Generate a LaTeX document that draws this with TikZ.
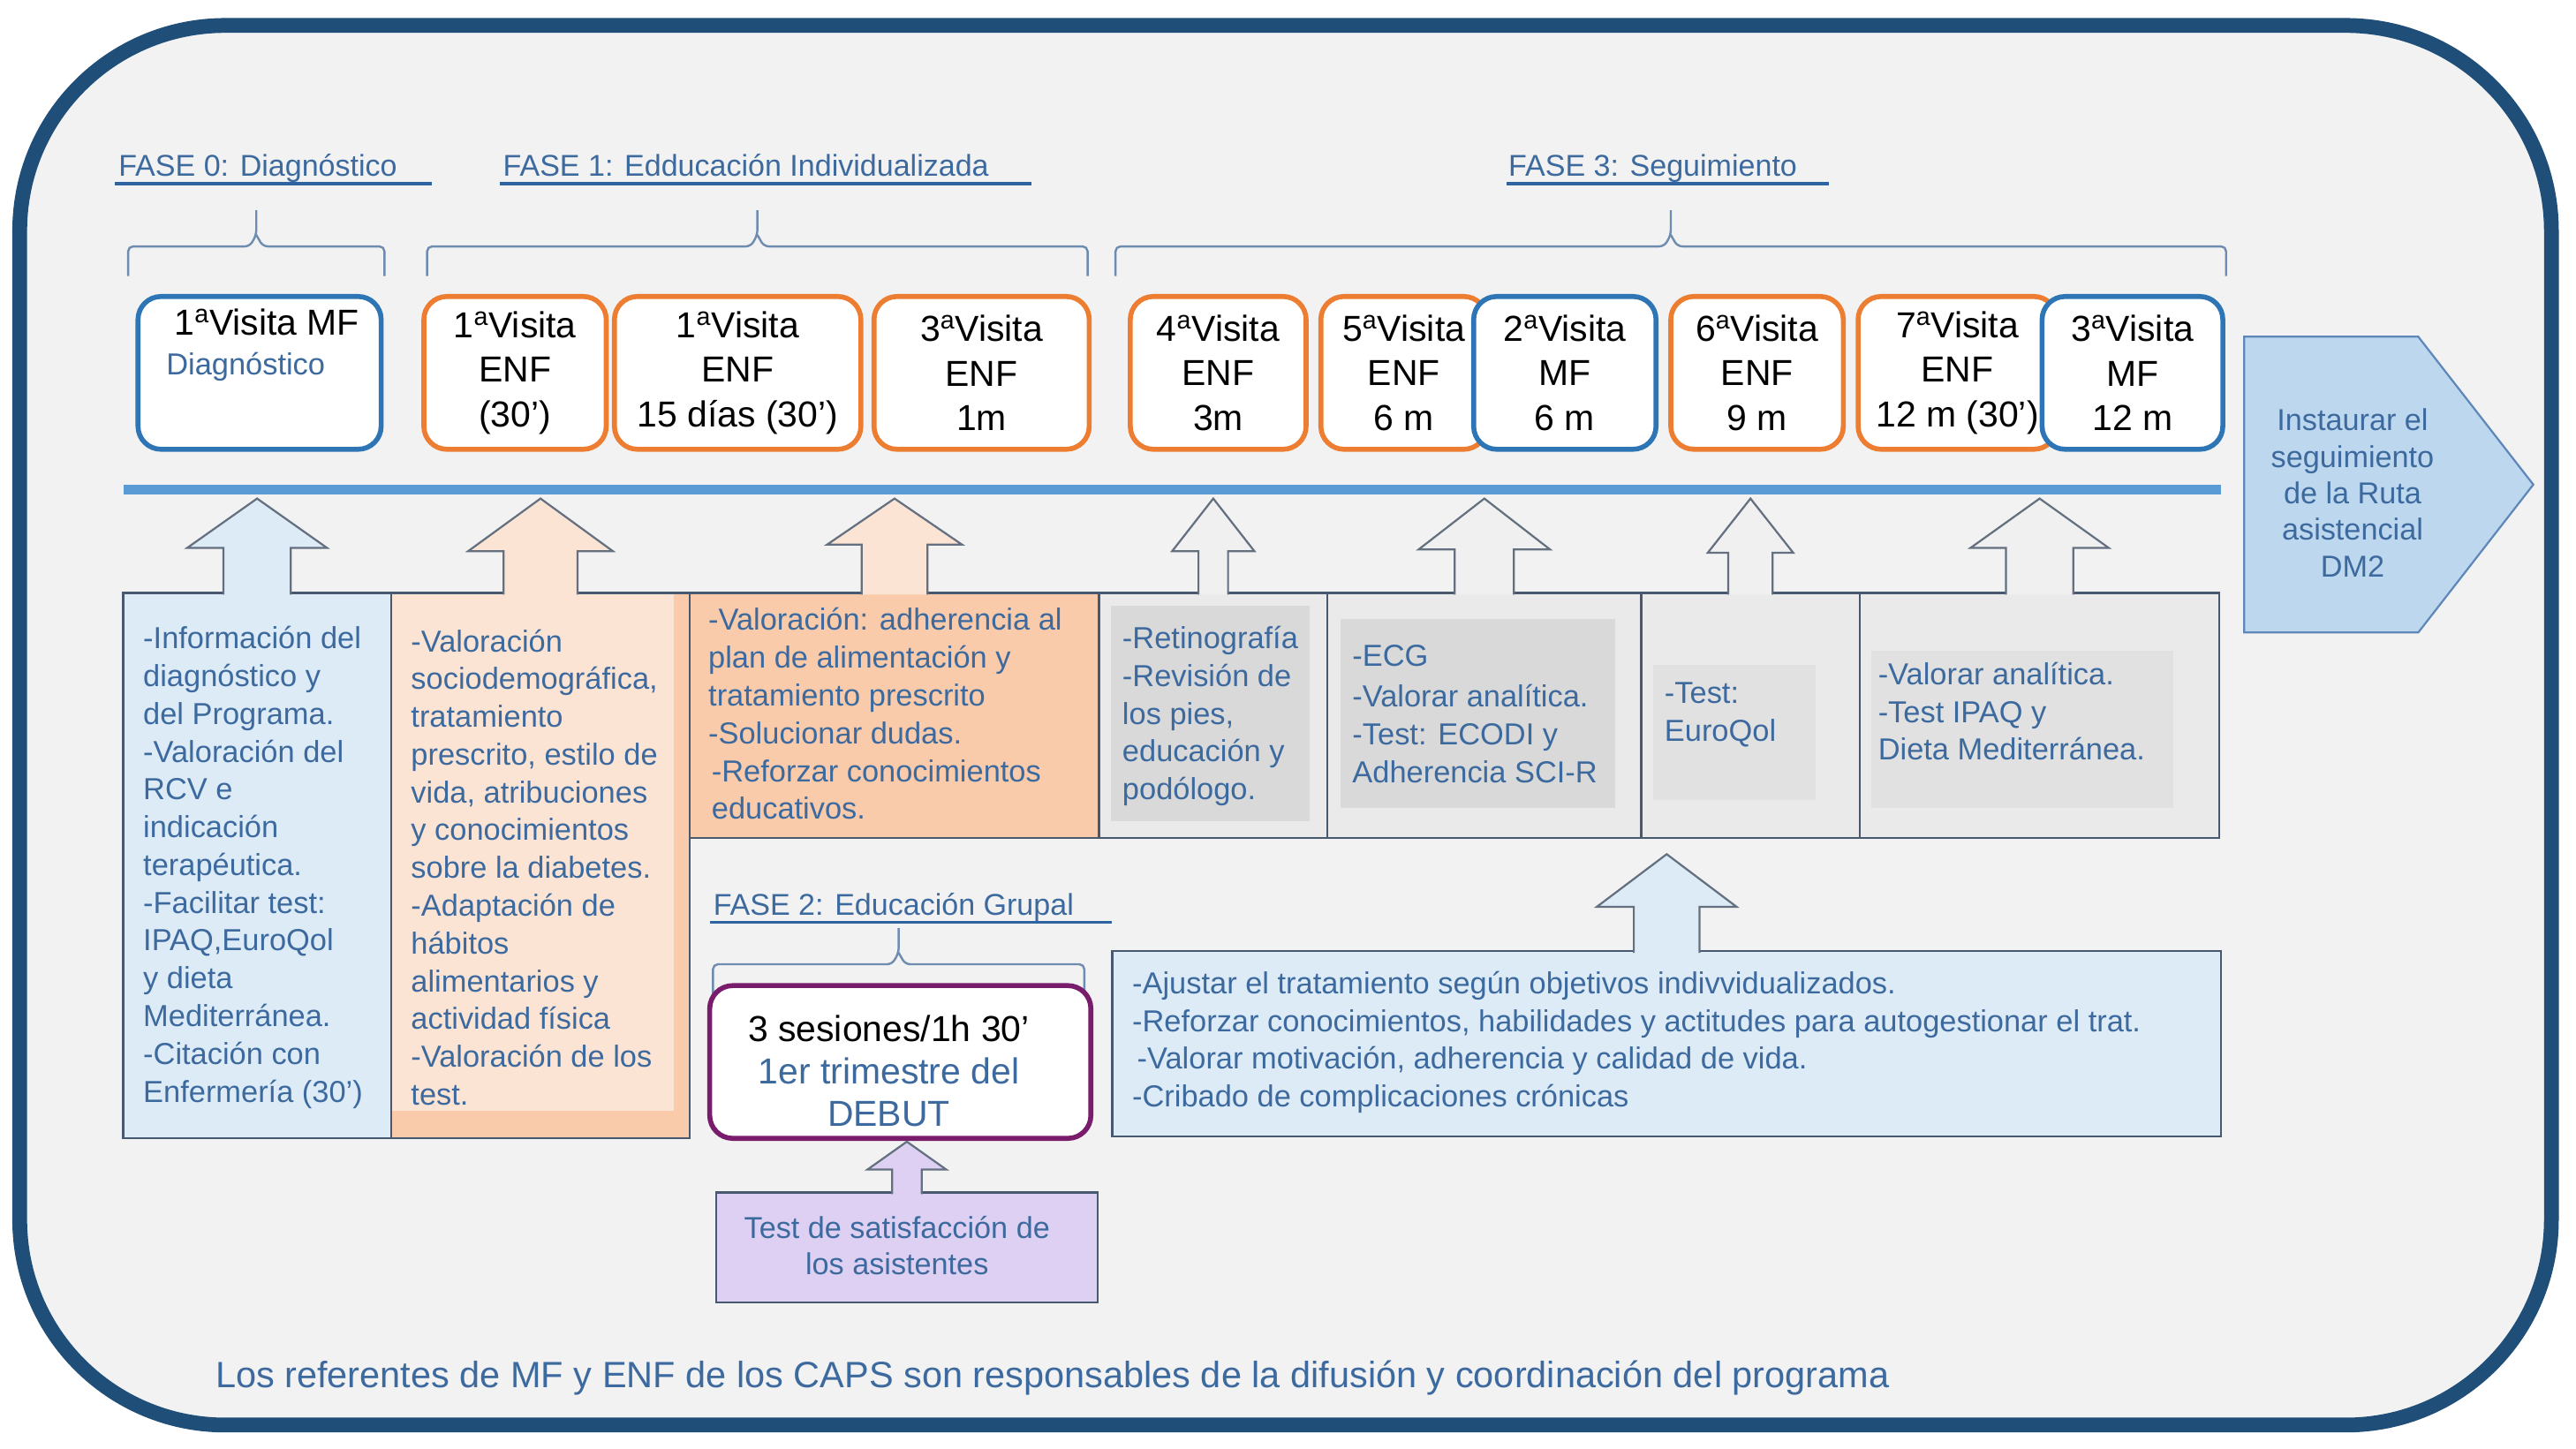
\documentclass[tikz,border=0pt]{standalone}
\usepackage{fontspec}
\setmainfont{Liberation Sans}
\usetikzlibrary{positioning,calc}

\definecolor{frameblue}{RGB}{31,78,121}
\definecolor{bggrey}{RGB}{242,242,242}
\definecolor{txtblue}{RGB}{61,106,158}
\definecolor{ruleblue}{RGB}{46,100,160}
\definecolor{bracecol}{RGB}{110,140,175}
\definecolor{enforange}{RGB}{237,125,49}
\definecolor{mfblue}{RGB}{46,117,182}
\definecolor{barblue}{RGB}{91,155,213}
\definecolor{chevfill}{RGB}{189,215,238}
\definecolor{chevline}{RGB}{95,135,185}
\definecolor{boxline}{RGB}{72,88,110}
\definecolor{arrowline}{RGB}{100,112,128}
\definecolor{bluefill}{RGB}{221,235,247}
\definecolor{peachfill}{RGB}{252,228,212}
\definecolor{peachdark}{RGB}{249,203,170}
\definecolor{greyfill}{RGB}{234,234,234}
\definecolor{greydark}{RGB}{217,217,217}
\definecolor{greymid}{RGB}{225,225,225}
\definecolor{arrowgrey}{RGB}{240,240,240}
\definecolor{lilacfill}{RGB}{222,208,242}
\definecolor{sessionpurple}{RGB}{122,28,108}

% brace over a group of visits: left, right, tick x, level
\newcommand{\phasebrace}[4]{%
  \draw[brace line] (#1,#4+18) -- (#1,#4) -- (#3-4,#4) -- (#3,#4-7) -- (#3,#4-22)
    (#3,#4-7) -- (#3+4,#4) -- (#2,#4) -- (#2,#4+18);}

% block arrow up from a box: fill, box, target, gap, head half width, shaft half width, head length
\newcommand{\blockarrow}[7]{%
  \path[block arrow,fill=#1] let \p1=(#2.north), \p2=(#2.north |- #3) in
    (\x1-#6pt,\y1-1pt) -- (\x1-#6pt,\y2-#4pt-#7pt) -- (\x1-#5pt,\y2-#4pt-#7pt) -- (\x1,\y2-#4pt)
    -- (\x1+#5pt,\y2-#4pt-#7pt) -- (\x1+#6pt,\y2-#4pt-#7pt) -- (\x1+#6pt,\y1-1pt);}

\begin{document}
\begin{tikzpicture}[x=1pt,y=-1pt,
    visit/.style={rounded corners=14pt,line width=3pt,fill=white,minimum height=93pt,inner sep=0pt,outer sep=0pt,align=center,font=\fontsize{22}{27}\selectfont},
    enf/.style={visit,draw=enforange},
    mf/.style={visit,draw=mfblue},
    info box/.style={draw=boxline,line width=1.2pt,anchor=north west,inner sep=0pt,outer sep=0pt},
    inner fill/.style={anchor=north west,inner sep=0pt,outer sep=0pt},
    info text/.style={anchor=west,align=left,inner sep=0pt,text=txtblue,font=\fontsize{18.5}{23}\selectfont},
    phase/.style={anchor=base west,inner sep=0pt,text=txtblue,font=\fontsize{18.3}{22}\selectfont},
    phase rule/.style={draw=ruleblue,line width=2pt},
    brace line/.style={draw=bracecol,line width=1.3pt,rounded corners=3pt},
    block arrow/.style={draw=arrowline,line width=1.2pt}]

    \fill[white] (0,0) rectangle (1568,882.1);
    \useasboundingbox (0,0) rectangle (1568,882.1);
    \draw[frameblue,line width=9pt,fill=bggrey,rounded corners=125pt] (12,15.5) rectangle (1553,867.5);

    % phases
    \node[phase] (f0) at (72,107.5) {FASE 0: Diagnóstico};
    \node[phase] (f1) at (306,107.5) {FASE 1: Edducación Individualizada};
    \node[phase] (f3) at (918,107.5) {FASE 3: Seguimiento};
    \node[phase] (f2) at (434,557) {FASE 2: Educación Grupal};
    \draw[phase rule] (f0.base west) ++(-2,4.5) -- ++(193,0);
    \draw[phase rule] (f1.base west) ++(-2,4.5) -- ++(324,0);
    \draw[phase rule] (f3.base west) ++(-1,4.5) -- ++(196,0);
    \draw[phase rule] (f2.base west) ++(-2,4.5) -- ++(245,0);

    \phasebrace{78}{234}{156}{150}
    \phasebrace{260}{662}{461}{150}
    \phasebrace{679}{1355}{1017}{150}
    \phasebrace{434}{660}{547}{587}

    % visits
    \node[mf,minimum width=148pt] (v1) at (158,227) {};
    \node[anchor=west,align=left,inner sep=0pt,font=\fontsize{22}{24}\selectfont] (v1txt) at (101,210)
        {\hspace*{5pt}1\textsuperscript{a}Visita MF\\{\color{txtblue}\fontsize{18.5}{24}\selectfont Diagnóstico}};
    \node[enf,minimum width=111pt,right=26pt of v1] (e1) {1\textsuperscript{a}Visita\\ENF\\(30’)};
    \node[enf,minimum width=150pt,right=5pt of e1] (e2) {1\textsuperscript{a}Visita\\ENF\\15 días (30’)};
    \node[enf,minimum width=131pt,right=8pt of e2] (e3) {3\textsuperscript{a}Visita\\ENF\\1m};
    \node[enf,minimum width=107pt,right=25pt of e3] (e4) {4\textsuperscript{a}Visita\\ENF\\3m};
    \node[enf,minimum width=101pt,right=9pt of e4] (e5) {5\textsuperscript{a}Visita\\ENF\\6 m};
    \node[mf,minimum width=111pt,right=-8pt of e5] (m2) {2\textsuperscript{a}Visita\\MF\\6 m};
    \node[enf,minimum width=105pt,right=9pt of m2] (e6) {6\textsuperscript{a}Visita\\ENF\\9 m};
    \node[enf,minimum width=121pt,right=9pt of e6] (e7) {7\textsuperscript{a}Visita\\ENF\\12 m (30’)};
    \node[mf,minimum width=110pt,right=-9pt of e7] (m3) {3\textsuperscript{a}Visita\\MF\\12 m};

    \node[fill=barblue,minimum width=1277pt,minimum height=6pt,inner sep=0pt,outer sep=0pt,anchor=west] (bar) at (75,298) {};

    \draw[chevline,line width=1.2pt,fill=chevfill] (1366,205) -- (1472,205) -- (1542,295) -- (1472,385) -- (1366,385) -- cycle;
    \node[align=center,text=txtblue,font=\fontsize{18.4}{22.3}\selectfont] (ruta) at (1432,300)
        {Instaurar el\\seguimiento\\de la Ruta\\asistencial\\DM2};

    % content boxes
    \node[info box,fill=bluefill,minimum width=163pt,minimum height=332pt] (b1) at (75,361) {};
    \node[info box,fill=peachdark,minimum width=182pt,minimum height=332pt] (b2) at (b1.north east) {};
    \node[inner fill,fill=peachfill,minimum width=171.4pt,minimum height=314.4pt] (b2in) at ($(b2.north west)+(0.6,0.6)$) {};
    \node[info box,fill=peachdark,minimum width=249pt,minimum height=149pt] (b3) at (b2.north east) {};
    \node[info box,fill=greyfill,minimum width=139pt,minimum height=149pt] (b4) at (b3.north east) {};
    \node[info box,fill=greyfill,minimum width=191pt,minimum height=149pt] (b5) at (b4.north east) {};
    \node[info box,fill=greyfill,minimum width=133pt,minimum height=149pt] (b6) at (b5.north east) {};
    \node[info box,fill=greyfill,minimum width=219pt,minimum height=149pt] (b7) at (b6.north east) {};
    \node[inner fill,fill=greydark,minimum width=121pt,minimum height=131pt] (g4) at (676,369) {};
    \node[inner fill,fill=greydark,minimum width=167pt,minimum height=115pt] (g5) at (816,377) {};
    \node[inner fill,fill=greymid,minimum width=99pt,minimum height=82pt] (g6) at (1006,405) {};
    \node[inner fill,fill=greymid,minimum width=184pt,minimum height=96pt] (g7) at (1139,396) {};

    \node[info text] (t1) at (87,528) {-Información del\\diagnóstico y\\del Programa.\\-Valoración del\\RCV e\\indicación\\terapéutica.\\-Facilitar test:\\IPAQ,EuroQol\\y dieta\\Mediterránea.\\-Citación con\\Enfermería (30’)};
    \node[info text] (t2) at (250,528) {-Valoración\\sociodemográfica,\\tratamiento\\prescrito, estilo de\\vida, atribuciones\\y conocimientos\\sobre la diabetes.\\-Adaptación de\\hábitos\\alimentarios y\\actividad física\\-Valoración de los\\test.};
    \node[info text] (t3) at (431,434.5) {-Valoración: adherencia al\\plan de alimentación y\\tratamiento prescrito\\-Solucionar dudas.\\\hspace*{2pt}-Reforzar conocimientos\\\hspace*{2pt}educativos.};
    \node[info text] (t4) at (683,436) {-Retinografía\\-Revisión de\\los pies,\\educación y\\podólogo.};
    \node[info text] (t5) at (823,434.5) {-ECG\\[2pt]-Valorar analítica.\\-Test: ECODI y\\Adherencia SCI-R};
    \node[info text] (t6) at (1013,435) {-Test:\\EuroQol};
    \node[info text] (t7) at (1143,433) {-Valorar analítica.\\-Test IPAQ y\\Dieta Mediterránea.};

    \node[info box,fill=bluefill,minimum width=675pt,minimum height=113pt] (b8) at (677,579) {};
    \node[info text] (t8) at (689,634.5) {-Ajustar el tratamiento según objetivos indivvidualizados.\\-Reforzar conocimientos, habilidades y actitudes para autogestionar el trat.\\\hspace*{3pt}-Valorar motivación, adherencia y calidad de vida.\\-Cribado de complicaciones crónicas};

    \node[draw=sessionpurple,line width=3pt,rounded corners=14pt,fill=white,minimum width=232pt,minimum height=93pt,inner sep=0pt,outer sep=0pt] (sesion) at (548,646.5) {};
    \node[align=center,inner sep=0pt,font=\fontsize{22}{26}\selectfont] (sesiontxt) at (541,652)
        {3 sesiones/1h 30’\\{\color{txtblue}1er trimestre del}\\{\color{txtblue}DEBUT}};
    \node[info box,fill=lilacfill,minimum width=232pt,minimum height=67pt] (b9) at (436,726) {};
    \node[align=center,inner sep=0pt,text=txtblue,font=\fontsize{18.4}{22}\selectfont] (t9) at (546,758)
        {Test de satisfacción de\\los asistentes};

    % arrows up
    \blockarrow{bluefill}{b1}{bar.south}{2.5}{42.5}{20.5}{30}
    \blockarrow{peachfill}{b2}{bar.south}{2.5}{44}{22.5}{32}
    \blockarrow{peachfill}{b3}{bar.south}{2.5}{41}{20}{28}
    \blockarrow{arrowgrey}{b4}{bar.south}{2.5}{25}{9}{32}
    \blockarrow{arrowgrey}{b5}{bar.south}{2.5}{40}{18}{31}
    \blockarrow{arrowgrey}{b6}{bar.south}{2.5}{26}{13.5}{33}
    \blockarrow{arrowgrey}{b7}{bar.south}{2.5}{42}{20.5}{30}
    \blockarrow{bluefill}{b8}{b6.south}{10}{42.5}{20}{32}
    \blockarrow{lilacfill}{b9}{sesion.south}{2}{24}{9}{17}

    \node[anchor=base west,inner sep=0pt,text=txtblue,font=\fontsize{22.3}{26}\selectfont] (nota) at (131,845)
        {Los referentes de MF y ENF de los CAPS son responsables de la difusión y coordinación del programa};
\end{tikzpicture}
\end{document}
